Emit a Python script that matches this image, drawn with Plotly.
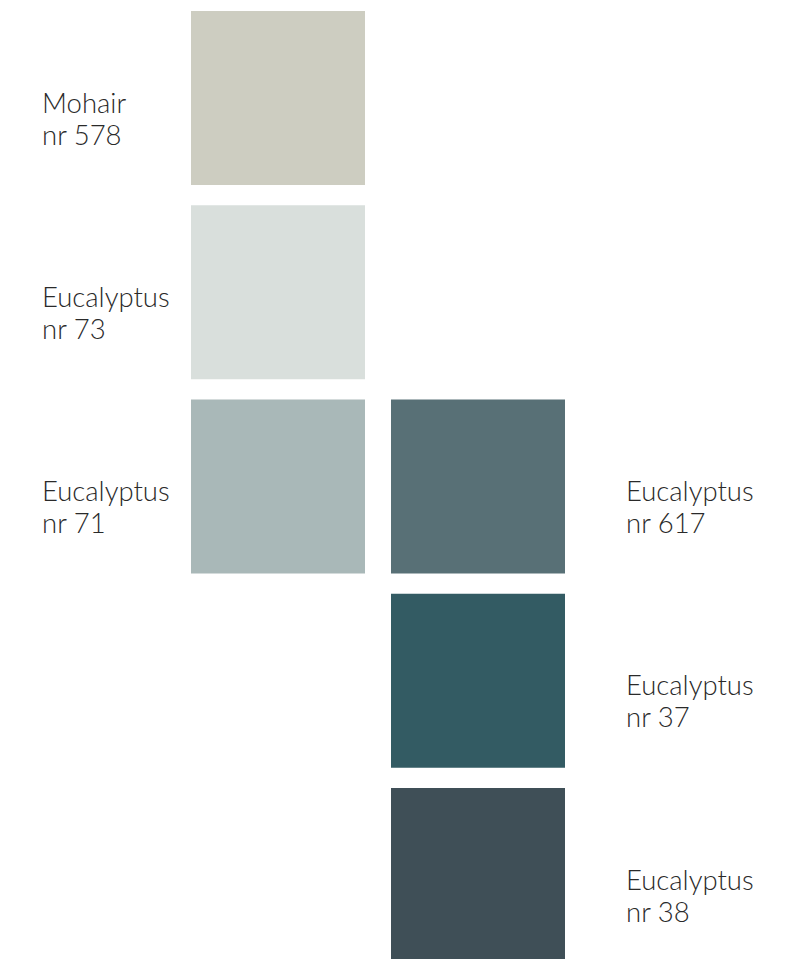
import plotly.graph_objects as go

# ---- data ----
names = ["Mohair", "Eucalyptus", "Eucalyptus", "Eucalyptus", "Eucalyptus", "Eucalyptus"]
numbers = ["nr 578", "nr 73", "nr 71", "nr 617", "nr 37", "nr 38"]
colors = ["#CDCDC1", "#D9DFDC", "#A9B8B8", "#587076", "#335B63", "#3F4F57"]
columns = [0, 0, 0, 1, 1, 1]
rows = [0, 1, 2, 2, 3, 4]
label_side = ["left", "left", "left", "right", "right", "right"]

# ---- layout constants (pixels, page coordinates; page has an 8px body margin) ----
W, H = 803, 959
OFF = 8
X0, COL_STEP = 191, 200
Y0, ROW_STEP = 11, 194.25
SIZE = 174
LABEL_X = {"left": 42, "right": 626}
LINE1, LINE2 = 91, 123  # vertical centre of each label line, from swatch top

fig = go.Figure()
fig.add_trace(go.Scatter(x=[OFF, W + OFF], y=[OFF, H + OFF], mode="markers",
                         marker=dict(opacity=0), hoverinfo="skip", showlegend=False))

font = dict(family="Lato", size=27.5, color="#2a2a2a", weight=300)
for name, num, col, c, r, side in zip(names, numbers, colors, columns, rows, label_side):
    x0 = X0 + c * COL_STEP
    y0 = Y0 + r * ROW_STEP
    fig.add_shape(type="rect", xref="x", yref="y",
                  x0=x0, x1=x0 + SIZE, y0=y0, y1=y0 + SIZE,
                  fillcolor=col, line=dict(width=0), layer="below")
    for txt, dy in ((name, LINE1), (num, LINE2)):
        fig.add_annotation(x=LABEL_X[side], y=y0 + dy, xref="x", yref="y",
                           text=txt, showarrow=False,
                           xanchor="left", yanchor="middle", align="left",
                           xshift=-2, font=font)

fig.update_layout(
    width=W, height=H,
    margin=dict(l=0, r=0, t=0, b=0),
    paper_bgcolor="white", plot_bgcolor="white",
    xaxis=dict(range=[OFF, W + OFF], visible=False, fixedrange=True),
    yaxis=dict(range=[H + OFF, OFF], visible=False, fixedrange=True),
    showlegend=False,
)
fig.write_html("out.html")
